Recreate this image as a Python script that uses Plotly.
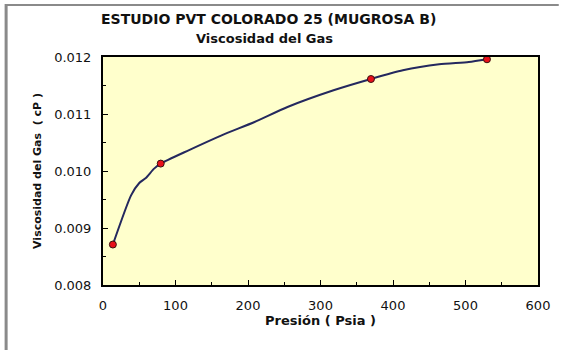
import plotly.graph_objects as go

# Measured points
presion = [13.6, 79.6, 369.6, 529.6]
viscosidad = [0.00871, 0.01013, 0.011614, 0.01196]

# Curve through the data
curva_x = [13.6, 38.7, 50, 59.1, 70.5, 79.6, 118, 163.6, 209, 254.5, 318, 369.6, 413.6, 463.6, 504.5, 529.6]
curva_y = [0.00871, 0.009573, 0.00979, 0.009877, 0.010042, 0.01013, 0.010363, 0.010626,
           0.01086, 0.011123, 0.011416, 0.011614, 0.011767, 0.011872, 0.011912, 0.01196]

x_ticks = [0, 100, 200, 300, 400, 500, 600]
y_ticks = [0.008, 0.009, 0.010, 0.011, 0.012]
y_tick_text = ["0.008", "0.009", "0.010", "0.011", "0.012"]

W, H = 562, 350
L, R, T, B = 103, 19, 57, 65
pw, ph = W - L - R, H - T - B

def px(x):
    return (x - L) / pw

def py(y):
    return (H - B - y) / ph

FONT = "DejaVu Sans"

fig = go.Figure()
fig.add_trace(go.Scatter(x=curva_x, y=curva_y, mode="lines",
                         line=dict(color="#24285e", width=2, shape="spline", smoothing=0.6),
                         hoverinfo="skip", showlegend=False))
fig.add_trace(go.Scatter(x=presion, y=viscosidad, mode="markers",
                         marker=dict(color="#e8101a", size=7, line=dict(color="#3a1010", width=1)),
                         showlegend=False, cliponaxis=False))

fig.update_layout(
    width=W, height=H,
    margin=dict(l=L, r=R, t=T, b=B),
    paper_bgcolor="white",
    plot_bgcolor="#ffffcc",
    showlegend=False,
    font=dict(family=FONT, color="#111111"),
)

fig.update_xaxes(range=[0, 600], tickvals=x_ticks, ticks="inside", ticklen=5, tickcolor="black",
                 tickfont=dict(family=FONT, size=13, color="#111111"), ticklabelstandoff=7,
                 showgrid=False, zeroline=False, showline=True, linecolor="black", linewidth=2,
                 mirror=True,
                 minor=dict(ticks="inside", dtick=50, ticklen=3, tickcolor="black"),
                 title=dict(text="<b>Presión ( Psia )</b>", font=dict(family=FONT, size=13), standoff=4))
fig.update_yaxes(range=[0.008, 0.012], tickvals=y_ticks, ticktext=y_tick_text, ticks="inside",
                 ticklen=5, tickcolor="black", ticklabelstandoff=7,
                 tickfont=dict(family=FONT, size=13, color="#111111"),
                 showgrid=False, zeroline=False, showline=True, linecolor="black", linewidth=2,
                 mirror=True,
                 minor=dict(ticks="inside", dtick=0.0005, ticklen=3, tickcolor="black"),
                 title=dict(text="<b>Viscosidad del Gas  ( cP )</b>", font=dict(family=FONT, size=11), standoff=10))

fig.add_annotation(text="<b>ESTUDIO PVT COLORADO 25 (MUGROSA B)</b>", xref="paper", yref="paper",
                   x=px(270), y=py(19), showarrow=False, font=dict(family=FONT, size=14, color="#111111"),
                   xanchor="center", yanchor="middle")
fig.add_annotation(text="<b>Viscosidad del Gas</b>", xref="paper", yref="paper",
                   x=px(266), y=py(39), showarrow=False, font=dict(family=FONT, size=13, color="#111111"),
                   xanchor="center", yanchor="middle")

# outer frame (left and top edges)
fig.add_shape(type="line", xref="paper", yref="paper", x0=px(5), x1=px(5), y0=py(4), y1=py(352),
              line=dict(color="#8a8a8a", width=3))
fig.add_shape(type="line", xref="paper", yref="paper", x0=px(4), x1=px(564), y0=py(5), y1=py(5),
              line=dict(color="#8a8a8a", width=2))

fig.write_html("out.html", config={"displayModeBar": False},
               post_script="document.body.style.margin='0';document.body.style.overflow='hidden';")
